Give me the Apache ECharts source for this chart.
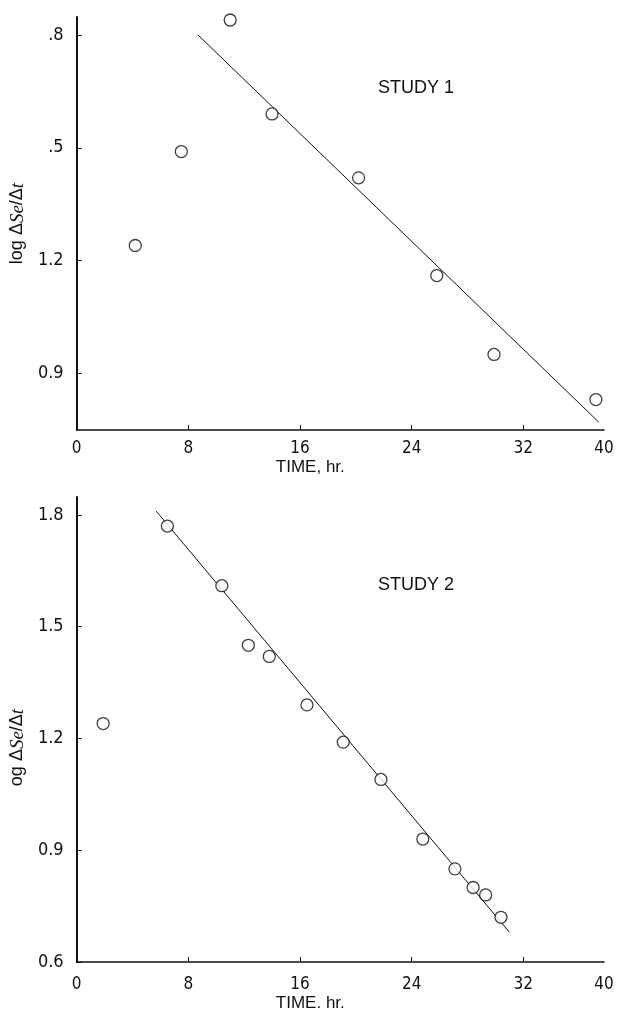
<!DOCTYPE html>
<html><head><meta charset="utf-8">
<script src="https://cdn.jsdelivr.net/npm/echarts@6.0.0/dist/echarts.min.js"></script>
<style>html,body{margin:0;padding:0;background:#fff}#c{width:620px;height:1013px}</style>
</head><body><div id="c"></div>
<script>
// ---- data ----
const xTickValues = [0, 8, 16, 24, 32];
const xTickLabels = ['0', '8', '16', '24', '32', '40'];
const X_END = 37.78; // where the drawn time axis stops (labelled "40" in the scan)

const study1Points = [[4.2,1.24],[7.5,1.49],[11.0,1.84],[14.0,1.59],[20.2,1.42],[25.8,1.16],[29.9,0.95],[37.2,0.83]];
const study1Fit = [[8.7,1.80],[37.4,0.77]];
const study1YTicks = [0.9, 1.2, 1.5, 1.8];
const study1YLabels = ['0.9', '1.2', '.5', '.8'];

const study2Points = [[1.9,1.24],[6.5,1.77],[10.4,1.61],[12.3,1.45],[13.8,1.42],[16.5,1.29],[19.1,1.19],[21.8,1.09],[24.8,0.93],[27.1,0.85],[28.4,0.80],[29.3,0.78],[30.4,0.72]];
const study2Fit = [[5.7,1.81],[31.0,0.68]];
const study2YTicks = [0.6, 0.9, 1.2, 1.5, 1.8];
const study2YLabels = ['0.6', '0.9', '1.2', '1.5', '1.8'];

const studyTitles = ['STUDY 1', 'STUDY 2'];
const xNames = ['TIME, hr.', 'TIME. hr.'];
const yNames = ['log Δ{i|Se}/Δ{i|t}', 'og Δ{i|Se}/Δ{i|t}'];

// ---- chart ----
const INK = '#111';
const NUM_FONT = "'DejaVu Sans Condensed','Liberation Sans Narrow','Liberation Sans',sans-serif";
const xAllTicks = xTickValues.concat([X_END]);
function lookup(vals, labels) {
  return function (v) {
    const i = vals.findIndex(t => Math.abs(t - v) < 1e-6);
    return i >= 0 ? labels[i] : '';
  };
}
function xAxis(idx, name, gap, labelMargin) {
  return {
    type: 'value', gridIndex: idx, min: 0, max: X_END,
    name: name, nameLocation: 'middle', nameGap: gap,
    nameTextStyle: {fontFamily: "'Liberation Sans',sans-serif", fontSize: 17, color: INK, padding: [0, 60, 0, 0]},
    axisLine: {show: true, lineStyle: {color: INK, width: 1.6}},
    axisTick: {show: true, inside: true, length: 5, lineStyle: {color: INK, width: 1}, customValues: xTickValues.slice(1)},
    axisLabel: {show: true, margin: labelMargin, color: INK, fontFamily: NUM_FONT, fontSize: 17,
      customValues: xAllTicks, formatter: lookup(xAllTicks, xTickLabels)},
    splitLine: {show: false}
  };
}
function yAxis(idx, min, ticks, labels, name, pad) {
  return {
    type: 'value', gridIndex: idx, min: min, max: 1.848,
    name: name, nameLocation: 'middle', nameGap: 40, nameRotate: 90,
    nameTextStyle: {fontFamily: "'Liberation Sans',sans-serif", fontSize: 18, color: INK, padding: pad,
      rich: {i: {fontFamily: "'Liberation Serif',serif", fontStyle: 'italic', fontSize: 19, color: INK}}},
    axisLine: {show: true, lineStyle: {color: INK, width: 2}},
    axisTick: {show: true, inside: true, length: 5, lineStyle: {color: INK, width: 1}, customValues: ticks},
    axisLabel: {show: true, margin: 13, color: INK, fontFamily: NUM_FONT, fontSize: 18,
      customValues: ticks, formatter: lookup(ticks, labels)},
    splitLine: {show: false}
  };
}
function scatter(idx, data) {
  return {type: 'scatter', xAxisIndex: idx, yAxisIndex: idx, data: data, symbol: 'circle', symbolSize: 12, z: 5,
    itemStyle: {color: '#fff', borderColor: INK, borderWidth: 1.3}};
}
function fit(idx, data) {
  return {type: 'line', xAxisIndex: idx, yAxisIndex: idx, data: data, showSymbol: false, z: 3,
    lineStyle: {color: INK, width: 1}};
}
const titleStyle = {fontFamily: "'Liberation Sans',sans-serif", fontSize: 18, fontWeight: 'normal', color: INK};
const chart = echarts.init(document.getElementById('c'), null, {renderer: 'canvas'});
chart.setOption({
  backgroundColor: '#fff',
  animation: false,
  title: [
    {text: studyTitles[0], left: 378, top: 79, padding: 0, textStyle: titleStyle},
    {text: studyTitles[1], left: 378, top: 576, padding: 0, textStyle: titleStyle}
  ],
  grid: [
    {left: 72, right: 16, top: 17, height: 413},
    {left: 72, right: 16, top: 497, height: 465}
  ],
  xAxis: [xAxis(0, xNames[0], 29, 10), xAxis(1, xNames[1], 33, 14)],
  yAxis: [
    yAxis(0, 0.749, study1YTicks, study1YLabels, yNames[0], [0, 0, 0, 0]),
    yAxis(1, 0.6, study2YTicks, study2YLabels, yNames[1], [0, 36, 0, 0])
  ],
  series: [fit(0, study1Fit), scatter(0, study1Points), fit(1, study2Fit), scatter(1, study2Points)]
});
</script></body></html>
